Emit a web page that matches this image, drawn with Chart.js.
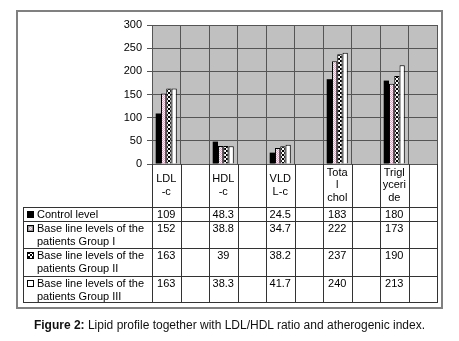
<!DOCTYPE html>
<html>
<head>
<meta charset="utf-8">
<script src="https://cdn.jsdelivr.net/npm/chart.js"></script>
<style>
  body { margin: 0; background: #fff; }
  #wrap { position: relative; width: 459px; height: 341px; }
  #caption {
    position: absolute; left: 0; top: 318px; width: 459px;
    text-align: center; font: 12px Arial, "Liberation Sans", sans-serif; color: #111;
  }
</style>
</head>
<body>
<div id="wrap">
  <canvas id="myChart" width="459" height="341"></canvas>
  <div id="caption"><b>Figure 2:</b> Lipid profile together with LDL/HDL ratio and atherogenic index.</div>
</div>
<script>
// values
const categories = ['LDL-c', 'HDL-c', 'VLDL-c', 'Total chol', 'Triglyceride'];
const tickLabels = [['LDL', '-c'], ['HDL', '-c'], ['VLD', 'L-c'], ['Tota', 'l', 'chol'], ['Trigl', 'yceri', 'de']];
const seriesNames = [
  ['Control level'],
  ['Base line levels of the', 'patients Group I'],
  ['Base line levels of the', 'patients Group II'],
  ['Base line levels of the', 'patients Group III']
];
const control = [109, 48.3, 24.5, 183, 180];
const group1 = [152, 38.8, 34.7, 222, 173];
const group2 = [163, 39, 38.2, 237, 190];
const group3 = [163, 38.3, 41.7, 240, 213];
const yTicks = [0, 50, 100, 150, 200, 250, 300];

const ctx = document.getElementById('myChart').getContext('2d');
Chart.defaults.font.family = 'Arial, "Liberation Sans", sans-serif';
Chart.defaults.font.size = 11;
Chart.defaults.color = '#000';

function makePattern(cells, cell) {
  const c = document.createElement('canvas');
  c.width = cells[0].length * cell;
  c.height = cells.length * cell;
  const g = c.getContext('2d');
  cells.forEach((row, r) => row.forEach((col, k) => {
    g.fillStyle = col;
    g.fillRect(k * cell, r * cell, cell, cell);
  }));
  return g.createPattern(c, 'repeat');
}

const pinkDots = makePattern([['#d6b4c6', '#f7eef3'], ['#f7eef3', '#d6b4c6']], 1);
const checker = makePattern([['#000', '#fff'], ['#fff', '#000']], 2);
const fills = ['#000', pinkDots, checker, '#fff'];

// every second slot is an empty spacer column, as in the original sheet
const labels = [];
categories.forEach(c => labels.push(c, ''));
function spaced(values) {
  const out = [];
  values.forEach(v => out.push(v, null));
  return out;
}
const allSeries = [control, group1, group2, group3];

const tablePlugin = {
  id: 'dataTable',
  beforeDraw(chart) {
    const a = chart.chartArea;
    const c = chart.ctx;
    c.save();
    c.fillStyle = '#c0c0c0';
    c.fillRect(a.left, a.top, a.right - a.left, a.bottom - a.top);
    c.restore();
  },
  afterDraw(chart) {
    const c = chart.ctx;
    const a = chart.chartArea;
    const xs = chart.scales.x;
    const colW = (a.right - a.left) / labels.length;
    const tableTop = xs.bottom;
    const rowH = [14, 27, 28, 26];
    const tableLeft = 23;
    const rowTops = [tableTop];
    rowH.forEach(h => rowTops.push(rowTops[rowTops.length - 1] + h));
    const tableBottom = rowTops[rowTops.length - 1];

    c.save();
    // outer frame
    c.strokeStyle = '#808080';
    c.lineWidth = 2;
    c.strokeRect(17, 11, 425, 297);

    c.strokeStyle = '#333';
    c.lineWidth = 1;
    c.beginPath();
    for (let i = 0; i <= labels.length; i++) {
      const px = Math.round(a.left + i * colW) + 0.5;
      c.moveTo(px, a.bottom);
      c.lineTo(px, tableBottom);
    }
    c.moveTo(tableLeft + 0.5, tableTop);
    c.lineTo(tableLeft + 0.5, tableBottom);
    rowTops.forEach(y => {
      c.moveTo(tableLeft, Math.round(y) + 0.5);
      c.lineTo(Math.round(a.right) + 1, Math.round(y) + 0.5);
    });
    c.stroke();

    c.font = '11px Arial, "Liberation Sans", sans-serif';
    c.textBaseline = 'middle';
    allSeries.forEach((vals, s) => {
      const y0 = rowTops[s] + 7.5;
      // legend swatch
      c.fillStyle = '#000';
      c.fillRect(tableLeft + 4, y0 - 3.5, 7, 7);
      if (s > 0) {
        c.fillStyle = s === 1 ? '#fff' : fills[s];
        c.fillRect(tableLeft + 5, y0 - 2.5, 5, 5);
        if (s === 1) {
          c.fillStyle = '#999';
          c.fillRect(tableLeft + 5, y0 - 2.5, 5, 5);
          c.fillStyle = pinkDots;
          c.fillRect(tableLeft + 6, y0 - 1.5, 3, 3);
        }
      }
      c.fillStyle = '#000';
      c.textAlign = 'left';
      seriesNames[s].forEach((line, k) => {
        c.fillText(line, tableLeft + 14, y0 + k * 13);
      });
      c.textAlign = 'center';
      vals.forEach((v, i) => {
        const cx = a.left + (2 * i + 0.5) * colW;
        c.fillText(String(v), cx, y0);
      });
    });
    c.restore();
  }
};

new Chart(ctx, {
  type: 'bar',
  data: {
    labels: labels,
    datasets: allSeries.map((vals, s) => ({
      label: seriesNames[s].join(' '),
      data: spaced(vals),
      backgroundColor: fills[s],
      borderColor: '#000',
      borderWidth: s === 0 ? 0 : 1,
      barPercentage: 1,
      categoryPercentage: 0.74
    }))
  },
  options: {
    responsive: false,
    animation: false,
    layout: { padding: { left: 0, top: 25, right: 22, bottom: 134 } },
    plugins: { legend: { display: false }, tooltip: { enabled: false } },
    scales: {
      x: {
        grid: { color: '#555', drawTicks: false },
        border: { color: '#555' },
        ticks: {
          autoSkip: false,
          maxRotation: 0,
          padding: 9,
          crossAlign: 'center',
          font: { size: 11, lineHeight: 1.12 },
          callback: (v, i) => (i % 2 === 0 ? tickLabels[i / 2] : '')
        },
        afterFit: s => { s.height = 43; }
      },
      y: {
        min: 0,
        max: 300,
        grid: { color: '#555', tickLength: 5 },
        border: { color: '#555' },
        ticks: { stepSize: 50, padding: 5, callback: v => (yTicks.includes(v) ? v : '') },
        afterFit: s => { s.width = 152; }
      }
    }
  },
  plugins: [tablePlugin]
});
</script>
</body>
</html>
